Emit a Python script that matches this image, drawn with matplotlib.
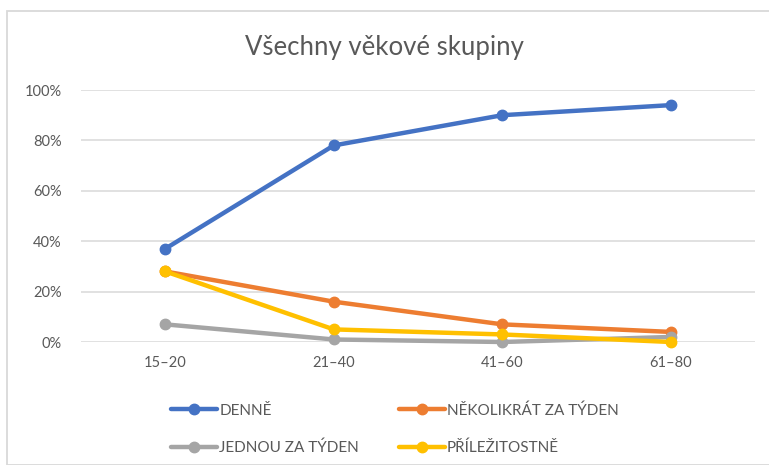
import matplotlib
matplotlib.use("Agg")
import matplotlib.pyplot as plt
from matplotlib.patches import Rectangle
from matplotlib.ticker import PercentFormatter

categories = ["15–20", "21–40", "41–60", "61–80"]
denne = [37, 78, 90, 94]
nekolikrat = [28, 16, 7, 4]
jednou = [7, 1, 0, 2]
prilezitostne = [28, 5, 3, 0]
series_names = ["DENNĚ", "NĚKOLIKRÁT ZA TÝDEN", "JEDNOU ZA TÝDEN", "PŘÍLEŽITOSTNĚ"]
colors = ["#4472C4", "#ED7D31", "#A5A5A5", "#FFC000"]
title = "Všechny věkové skupiny"

plt.rcParams['font.family'] = ['Lato', 'DejaVu Sans']

W, H = 769, 465
fig = plt.figure(figsize=(W / 100, H / 100), dpi=100)

# chart frame
fig.patches.append(Rectangle((7 / W, 0), 1.2, (H - 11) / H, transform=fig.transFigure,
                             fill=False, edgecolor="#D9D9D9", linewidth=1.3))

left, right = 81 / W, 755 / W
bottom, top = (H - 342) / H, (H - 90) / H
ax = fig.add_axes([left, bottom, right - left, top - bottom])

x = list(range(len(categories)))
handles = []
for vals, name, c in zip([denne, nekolikrat, jednou, prilezitostne], series_names, colors):
    h, = ax.plot(x, vals, color=c, linewidth=3.2, marker="o", markersize=7.5,
                 solid_capstyle="round", label=name, clip_on=False, zorder=3)
    handles.append(h)

ax.set_xlim(-0.5, len(categories) - 0.5)
ax.set_ylim(0, 100)
ax.set_yticks(range(0, 101, 20))
ax.yaxis.set_major_formatter(PercentFormatter(decimals=0))
ax.set_xticks(x)
ax.set_xticklabels(categories)
ax.grid(axis="y", color="#D9D9D9", linewidth=1.1)
ax.set_axisbelow(True)
for s in ["top", "right", "left", "bottom"]:
    ax.spines[s].set_visible(False)
ax.tick_params(axis="both", length=0, colors="#595959", labelsize=10.5)
ax.tick_params(axis="y", pad=14)
ax.tick_params(axis="x", pad=10)

fig.text(0.5, (H - 47) / H, title, ha="center", va="center", fontsize=18.5,
         color="#595959", fontweight="normal")

# legend filled row-wise: reorder for matplotlib's column-major filling
order = [0, 2, 1, 3]
leg = fig.legend([handles[i] for i in order], [series_names[i] for i in order],
                 loc="center", ncol=2,
                 bbox_to_anchor=(395 / W, 1 - 429 / H), frameon=False,
                 fontsize=11, labelcolor="#595959", handlelength=3.0,
                 handletextpad=0.15, columnspacing=2.6, labelspacing=1.5)

fig.savefig("out.png", dpi=100)
